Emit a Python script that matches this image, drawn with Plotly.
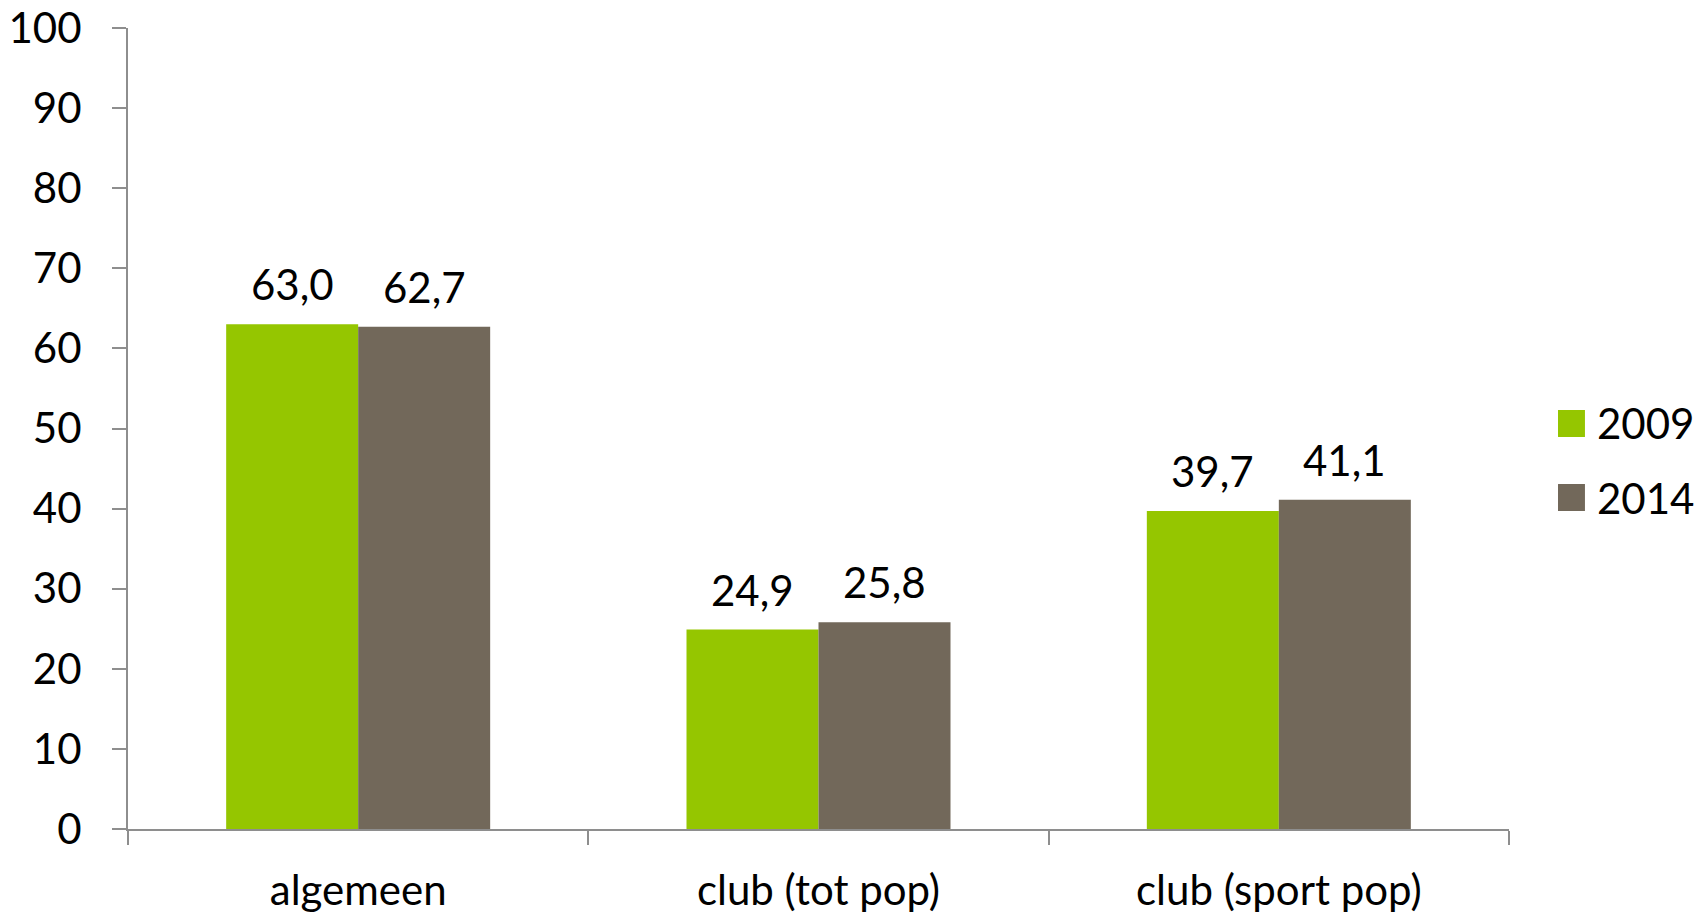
import plotly.graph_objects as go

categories = ["algemeen", "club (tot pop)", "club (sport pop)"]
series_names = ["2009", "2014"]
values_2009 = [63.0, 24.9, 39.7]
values_2014 = [62.7, 25.8, 41.1]
y_ticks = [0, 10, 20, 30, 40, 50, 60, 70, 80, 90, 100]

colors = ["#95C600", "#72685A"]
FONT = "Lato"
FS = 42

W, H = 1707, 916
ML, MR, MT, MB = 128, 198, 28, 87
BARGAP = 0.4265

fig = go.Figure()
series = [values_2009, values_2014]
for name, vals, col in zip(series_names, series, colors):
    fig.add_trace(go.Bar(
        x=categories, y=vals, name=name, marker=dict(color=col, line=dict(width=0)),
        showlegend=False, cliponaxis=False,
    ))

# value labels above each bar (offset within the group by half a bar width)
cat_px = (W - ML - MR) / len(categories)
bar_px = cat_px * (1 - BARGAP) / len(series)
for si, vals in enumerate(series):
    xshift = (si - (len(series) - 1) / 2) * bar_px
    for cat, v in zip(categories, vals):
        fig.add_annotation(
            x=cat, y=v, xref="x", yref="y", text=f"{v:.1f}".replace(".", ","),
            showarrow=False, xanchor="center", yanchor="bottom",
            xshift=xshift, yshift=13,
            font=dict(family=FONT, size=FS, color="black"),
        )

# legend drawn as shapes + text
legend_rows = [(0.4894, 0.5231), (0.397, 0.4307)]
for (y0, y1), name, col in zip(legend_rows, series_names, colors):
    fig.add_shape(type="rect", xref="paper", yref="paper", x0=1.0355, x1=1.0550,
                  y0=y0, y1=y1, fillcolor=col, line=dict(width=0))
    fig.add_annotation(xref="paper", yref="paper", x=1.062, y=(y0 + y1) / 2,
                       text=name, showarrow=False, xanchor="left", yanchor="middle",
                       font=dict(family=FONT, size=FS, color="black"))

fig.update_layout(
    width=W, height=H,
    margin=dict(l=ML, r=MR, t=MT, b=MB, autoexpand=False),
    plot_bgcolor="white", paper_bgcolor="white",
    barmode="group", bargap=BARGAP, bargroupgap=0,
    separators=", ",
    font=dict(family=FONT, size=FS, color="black"),
)
fig.update_yaxes(
    range=[0, 100], tickvals=y_ticks, showgrid=False, zeroline=False,
    showline=True, linecolor="#8E8E8E", linewidth=2,
    ticks="outside", ticklen=14, tickcolor="#8E8E8E", tickwidth=2,
    ticklabelstandoff=22, ticklabeloverflow="allow",
    tickfont=dict(family=FONT, size=FS, color="black"),
)
fig.update_xaxes(
    showgrid=False, showline=True, linecolor="#8E8E8E", linewidth=2,
    ticks="outside", ticklen=14, tickcolor="#8E8E8E", tickwidth=2,
    tickson="boundaries", ticklabelstandoff=24,
    tickfont=dict(family=FONT, size=FS, color="black"),
)

fig.write_html(
    "out.html",
    config={"displayModeBar": False},
    post_script="document.body.style.margin='0';document.body.style.overflow='hidden';",
)
